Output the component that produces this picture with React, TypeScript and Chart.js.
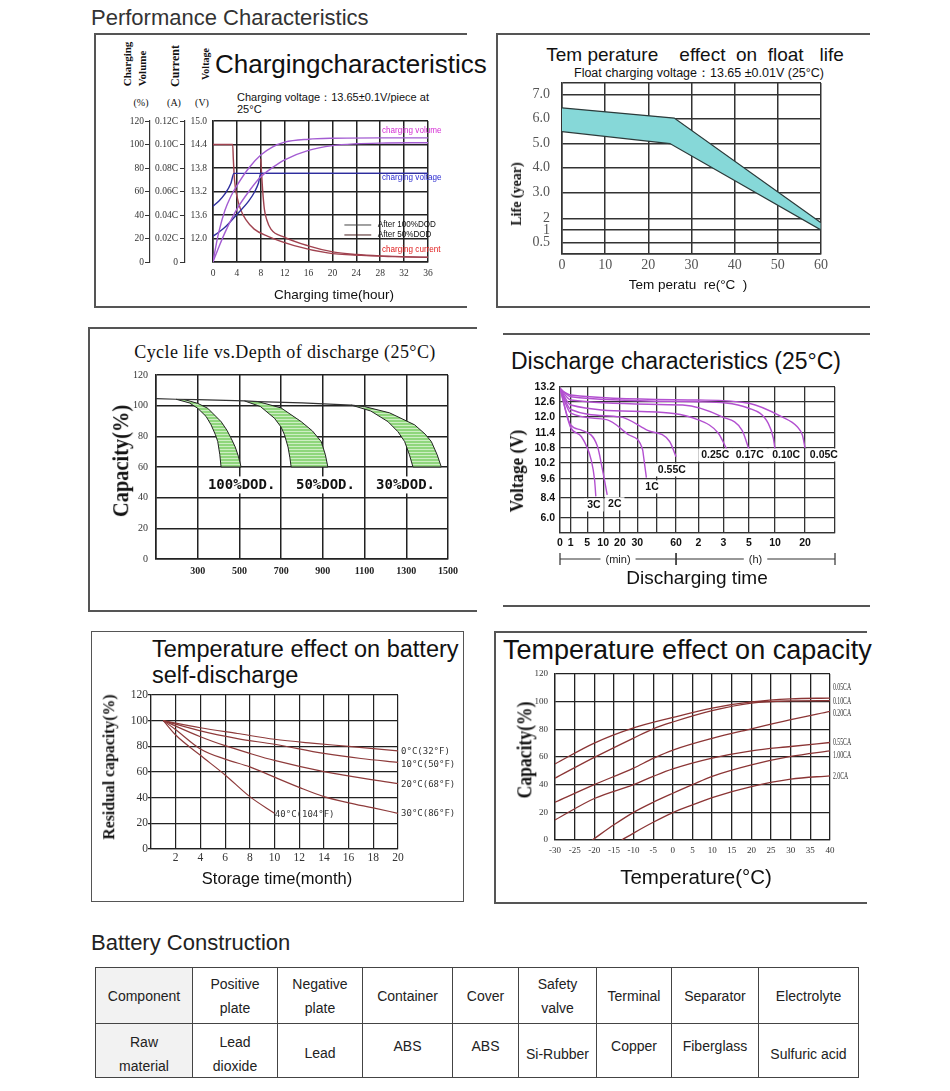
import React, { useEffect, useRef } from 'react';
import { Chart, registerables, LinearScale } from 'chart.js';

// ---------- a linear scale whose tick spacing follows the hand-drawn grid ----------
class PiecewiseScale extends LinearScale {
  static id = 'piecewise';
  static defaults = {};
  brk(): number[][] {
    return (this.options as any).breaks;
  }
  getPixelForValue(value: number) {
    const b = this.brk();
    let d = b[b.length - 1][1];
    if (value <= b[0][0]) d = b[0][1];
    else {
      for (let i = 1; i < b.length; i++) {
        if (value <= b[i][0]) {
          const t = (value - b[i - 1][0]) / (b[i][0] - b[i - 1][0]);
          d = b[i - 1][1] + t * (b[i][1] - b[i - 1][1]);
          break;
        }
      }
    }
    return this.getPixelForDecimal(d);
  }
  getValueForPixel(pixel: number) {
    const d = this.getDecimalForPixel(pixel);
    const b = this.brk();
    for (let i = 1; i < b.length; i++) {
      if (d <= b[i][1]) {
        const t = (d - b[i - 1][1]) / (b[i][1] - b[i - 1][1]);
        return b[i - 1][0] + t * (b[i][0] - b[i - 1][0]);
      }
    }
    return b[b.length - 1][0];
  }
}
Chart.register(...registerables, PiecewiseScale as any);

type P = [number, number];
type Note = { x: number; y: number; text: string; color?: string };

// ================= DATA =================
// 1. Charging characteristics (x: hours, y: charging level on the 0-120 grid)
const chgTimeTicks = [0, 4, 8, 12, 16, 20, 24, 28, 32, 36];
const chgTimeLabels = ['0', '4', '8', '12', '16', '20', '24', '28', '32', '36'];
const chgLevelTicks = [0, 20, 40, 60, 80, 100, 120];
const chgVolumeLabels = ['0', '20', '40', '60', '80', '100', '120'];
const chgCurrentLabels = ['0', '0.02C', '0.04C', '0.06C', '0.08C', '0.10C', '0.12C'];
const chgVoltageLabels = ['', '12.0', '13.6', '13.2', '13.8', '14.4', '15.0'];
const chgVolume50: P[] = [[0, 0], [0.5, 14], [1, 26], [2, 44], [3, 56], [4, 65], [6, 80], [8, 91], [10, 98], [12, 102], [16, 104.5], [20, 105.3], [28, 105.6], [36, 105.6]];
const chgVolume100: P[] = [[0, 0], [1, 13], [2, 25], [4, 45], [6, 60], [8, 72.5], [10, 80.5], [12, 87], [16, 95], [20, 99], [24, 100.6], [28, 101.2], [36, 101.5]];
const chgVoltage50: P[] = [[0, 47.5], [1, 52], [2, 58], [3, 67], [3.5, 75.4], [36, 75.4]];
const chgVoltage100: P[] = [[0, 22], [1, 25.5], [2, 29.5], [4, 40.5], [6, 52], [7, 60], [7.6, 67], [8, 75.4], [36, 75.4]];
const chgCurrent50: P[] = [[0, 100], [3.3, 100], [3.4, 88], [3.6, 70], [4, 56], [4.6, 45], [5.5, 36], [6.9, 28], [9.1, 22], [13.6, 14], [19.2, 7.8], [24.8, 5.6], [30, 4.6], [36, 3.9]];
const chgCurrent100: P[] = [[8, 88], [8.1, 78], [8.3, 62], [8.6, 45], [9, 36], [9.7, 28], [12, 21], [15.8, 14], [20.3, 8.4], [24, 6.4], [28, 5.2], [32, 4.5], [36, 4]];
const chgLegend100: P[] = [[22, 31.5], [26.5, 31.5]];
const chgLegend50: P[] = [[22, 23], [26.5, 23]];
const chgNotes: Note[] = [
  { x: 28.3, y: 111.5, text: 'charging volume', color: '#d42bd4' },
  { x: 28.3, y: 72.3, text: 'charging voltage', color: '#2b2bd0' },
  { x: 28.3, y: 11, text: 'charging current', color: '#e01b1b' },
  { x: 27.6, y: 31.5, text: 'After 100%DOD', color: '#111' },
  { x: 27.6, y: 23, text: 'After 50%DOD', color: '#111' },
];

// 2. Temperature effect on float life (x: °C, y: years)
const floatTempTicks = [0, 10, 20, 30, 40, 50, 60];
const floatTempLabels = ['0', '10', '20', '30', '40', '50', '60'];
const floatLifeTicks = [0, 0.5, 1, 2, 3, 4, 5, 6, 7, 7.5];
const floatLifeLabels = ['', '0.5', '1', '2', '3.0', '4.0', '5.0', '6.0', '7.0', ''];
const floatLifeGrid = [0, 0.066, 0.14, 0.208, 0.358, 0.504, 0.646, 0.792, 0.932, 1];
const floatUpper: P[] = [[0, 6.45], [26, 6.02], [60, 1.62]];
const floatLower: P[] = [[0, 5.48], [25, 5.0], [60, 1.0]];

// 3. Cycle life vs depth of discharge (x: cycles, y: capacity %)
const cycleTicks = [100, 300, 500, 700, 900, 1100, 1300, 1500];
const cycleLabels = ['', '300', '500', '700', '900', '1100', '1300', '1500'];
const capTicks = [0, 20, 40, 60, 80, 100, 120];
const capLabels = ['0', '20', '40', '60', '80', '100', '120'];
const cycleTopLine: P[] = [[100, 104.6], [196, 104.2], [300, 103.9], [524, 103.1], [588, 102.7], [800, 101.8], [1036, 100.4], [1100, 99.4]];
const dod100Left: P[] = [[196, 104.2], [260, 101.8], [300, 98.3], [340, 93], [364, 87.5], [385, 81], [396, 76.6], [406, 68], [412, 60]];
const dod100Right: P[] = [[236, 104], [300, 101.5], [348, 98.3], [412, 89.6], [440, 84], [460, 78.8], [480, 73], [495, 67], [508, 60]];
const dod50Left: P[] = [[524, 103.1], [600, 99.5], [668, 91.8], [700, 86], [716, 81], [733, 73], [742, 66], [748, 60]];
const dod50Right: P[] = [[588, 102.7], [700, 98.5], [796, 89.6], [850, 83.5], [892, 76.6], [912, 68], [924, 60]];
const dod30Left: P[] = [[1036, 100.4], [1130, 96.5], [1212, 89.6], [1260, 83], [1292, 76.6], [1315, 68], [1332, 60]];
const dod30Right: P[] = [[1100, 99.4], [1220, 95.3], [1340, 87.5], [1390, 81.5], [1420, 76.6], [1448, 68], [1468, 60]];
const dodNotes: Note[] = [
  { x: 349, y: 48.3, text: '100%DOD.' },
  { x: 771, y: 48.3, text: '50%DOD.' },
  { x: 1155, y: 48.3, text: '30%DOD.' },
];

// 4. Discharge characteristics (x: minutes, y: volts)
const disTimeTicks = [0, 1, 5, 10, 20, 30, 45, 60, 120, 180, 300, 600, 1200, 2400];
const disTimeLabels = ['0', '1', '5', '10', '20', '30', '', '60', '2', '3', '5', '10', '20', ''];
const disTimeGrid = [0, 0.039, 0.099, 0.157, 0.218, 0.281, 0.352, 0.422, 0.503, 0.594, 0.687, 0.782, 0.891, 1];
const disVoltTicks = [3.6, 6.0, 8.4, 9.6, 10.2, 10.8, 11.4, 12.0, 12.6, 13.2];
const disVoltLabels = ['', '6.0', '8.4', '9.6', '10.2', '10.8', '11.4', '12.0', '12.6', '13.2'];
const disVoltGrid = [0, 0.103, 0.24, 0.37, 0.479, 0.582, 0.685, 0.795, 0.897, 1];
const dis005: P[] = [[0, 13.1], [1, 12.88], [120, 12.68], [300, 12.55], [740, 12.0], [1040, 11.64], [1150, 11.3], [1200, 10.8]];
const dis010: P[] = [[0, 13.15], [1, 12.81], [120, 12.61], [300, 12.35], [522, 11.76], [580, 11.2], [600, 10.75]];
const dis017: P[] = [[0, 13.15], [1, 12.68], [78, 12.48], [176, 12.01], [268, 11.5], [300, 10.75]];
const dis025: P[] = [[0, 13.15], [1, 12.48], [38, 12.21], [120, 11.89], [168, 11.39], [196, 10.75]];
const dis055: P[] = [[0, 13.15], [1, 12.3], [20, 12.0], [38, 11.5], [55, 11.06], [60, 10.45]];
const dis1: P[] = [[0, 13.15], [1, 12.15], [12, 11.9], [25, 11.33], [34, 10.75], [35, 10.4], [37, 9.65]];
const dis2: P[] = [[0, 13.15], [1, 11.7], [3.7, 11.5], [8.2, 10.87], [9.7, 10.0], [12.4, 8.6]];
const dis3: P[] = [[0, 13.15], [1, 11.6], [3.6, 11.25], [6.3, 10.3], [7.3, 9.55], [7.7, 8.5]];
const disNotes: Note[] = [
  { x: 5, y: 7.56, text: '3C' },
  { x: 12.9, y: 7.7, text: '2C' },
  { x: 36.2, y: 9.1, text: '1C' },
  { x: 45.8, y: 9.94, text: '0.55C' },
  { x: 127, y: 10.52, text: '0.25C' },
  { x: 238, y: 10.52, text: '0.17C' },
  { x: 567, y: 10.52, text: '0.10C' },
  { x: 1394, y: 10.52, text: '0.05C' },
];
const disSpans = [
  { from: 0, to: 60, label: '(min)' },
  { from: 60, to: 2400, label: '(h)' },
];

// 5. Temperature effect on self-discharge (x: months, y: residual %)
const storeTicks = [0, 2, 4, 6, 8, 10, 12, 14, 16, 18, 20];
const storeLabels = ['', '2', '4', '6', '8', '10', '12', '14', '16', '18', '20'];
const resTicks = [0, 20, 40, 60, 80, 100, 120];
const resLabels = ['0', '20', '40', '60', '80', '100', '120'];
const sd0: P[] = [[1, 100], [4, 94.5], [7, 90], [10, 85.5], [13, 82.5], [16, 80], [20, 76.4]];
const sd10: P[] = [[1, 100], [4, 92], [7, 86], [10, 81.6], [14, 74.5], [17, 70.5], [20, 67.5]];
const sd20: P[] = [[1, 100], [4, 87.5], [6, 80.5], [8, 74.5], [10, 69], [14, 60.3], [18, 53.8], [20, 51]];
const sd30: P[] = [[1, 100], [2, 93], [4, 78], [6, 70], [8, 64], [10, 56], [12, 48], [14, 40.8], [16, 36], [18, 32], [20, 27.8]];
const sd40: P[] = [[1, 100], [2, 88.8], [4, 73], [6, 57.7], [8, 40.8], [10, 27.8]];
const sdNotes: Note[] = [
  { x: 20.25, y: 75.6, text: '0°C(32°F)' },
  { x: 20.25, y: 65.5, text: '10°C(50°F)' },
  { x: 20.25, y: 49.9, text: '20°C(68°F)' },
  { x: 20.25, y: 27.3, text: '30°C(86°F)' },
  { x: 10.03, y: 26.5, text: '40°C(104°F)' },
];

// 6. Temperature effect on capacity (x: °C, y: capacity %)
const tempTicks = [-30, -25, -20, -15, -10, -5, 0, 5, 10, 15, 20, 25, 30, 35, 40];
const tempLabels = ['-30', '-25', '-20', '-15', '-10', '-5', '0', '5', '10', '15', '20', '25', '30', '35', '40'];
const tc005: P[] = [[-30, 55], [-20, 70], [-10, 81], [0, 88.6], [10, 95.4], [20, 99.8], [30, 102], [40, 102.6]];
const tc010: P[] = [[-30, 44.7], [-20, 59.7], [-10, 73.7], [-5, 80.4], [0, 85.3], [10, 93.5], [20, 99], [30, 100.5], [40, 100.7]];
const tc020: P[] = [[-30, 27.3], [-20, 40], [-10, 52], [-5, 59], [0, 65], [10, 73.5], [20, 80.4], [30, 87], [40, 93]];
const tc055: P[] = [[-30, 14.5], [-20, 30], [-10, 40], [-5, 46], [0, 51.4], [10, 59.2], [20, 64.5], [30, 67.6], [40, 70.5]];
const tc100: P[] = [[-20.5, 0], [-15, 11], [-10, 20], [-5, 27.3], [0, 33.8], [5, 40], [10, 46], [20, 54.3], [30, 60.4], [40, 64.5]];
const tc200: P[] = [[-13, 0], [-10, 5], [-5, 12.8], [0, 19.8], [5, 25.4], [10, 30.7], [20, 38.6], [30, 44], [40, 46.4]];
const tcNotes: Note[] = [
  { x: 40.75, y: 110.2, text: '0.05CA' },
  { x: 40.75, y: 100.1, text: '0.10CA' },
  { x: 40.75, y: 91.4, text: '0.20CA' },
  { x: 40.75, y: 70.3, text: '0.55CA' },
  { x: 40.75, y: 60.9, text: '1.00CA' },
  { x: 40.75, y: 45.7, text: '2.0CA' },
];

// 7. Battery construction table
const tableComponents = ['Component', 'Positive\nplate', 'Negative\nplate', 'Container', 'Cover', 'Safety\nvalve', 'Terminal', 'Separator', 'Electrolyte'];
const tableMaterials = ['Raw\nmaterial', 'Lead\ndioxide', 'Lead', 'ABS', 'ABS', 'Si-Rubber', 'Copper', 'Fiberglass', 'Sulfuric acid'];

// ================= STYLE / HELPERS =================
const SANS = '"Liberation Sans", Arial, sans-serif';
const SERIF = '"Liberation Serif", "Times New Roman", serif';
const MONO = '"DejaVu Sans Mono", monospace';
const tableColWidths = [97, 85, 85, 90, 66, 78, 75, 87, 100];
const tableShift = [3, 3, 2, -5, -5, 3, -5, -5, 3];

const pts = (a: P[]) => a.map(([x, y]) => ({ x, y }));
const breaksOf = (vals: number[], pos: number[]) => vals.map((v, i) => [v, pos[i]]);
const fitW = (w: number) => (s: any) => { s.width = w; s.paddingTop = 0; s.paddingBottom = 0; };
const fitH = (h: number) => (s: any) => { s.height = h; s.paddingLeft = 0; s.paddingRight = 0; };
const tickAt = (vals: number[]) => (s: any) => { s.ticks = vals.map((value) => ({ value })); };

function axis(s: any) {
  const horiz = s.pos === 'bottom';
  return {
    type: s.type || 'linear',
    position: s.pos,
    weight: s.weight || 0,
    min: s.ticks[0],
    max: s.ticks[s.ticks.length - 1],
    breaks: s.breaks,
    afterBuildTicks: tickAt(s.ticks),
    afterFit: horiz ? fitH(s.size) : fitW(s.size),
    ticks: {
      autoSkip: false, maxRotation: 0, minRotation: 0, padding: s.pad,
      font: s.font, color: s.color,
      callback: (_v: any, i: number) => s.labels[i],
    },
    grid: s.grid,
    border: s.border,
  };
}

const base = (padding: any) => ({
  responsive: false,
  animation: false,
  events: [],
  layout: { padding },
  plugins: { legend: { display: false }, tooltip: { enabled: false } },
});

const line = (d: P[], color: string, width: number, mono = true) => ({
  data: pts(d), borderColor: color, borderWidth: width, pointRadius: 0, fill: false,
  cubicInterpolationMode: mono ? 'monotone' : 'default', tension: 0,
});

const shape = (d: P[], fillColor: any, stroke: string, width: number) => ({
  data: pts(d), fill: 'shape', backgroundColor: fillColor, borderColor: stroke,
  borderWidth: width, pointRadius: 0, tension: 0,
});

function notesPlugin(notes: Note[], font: string, opts: any = {}) {
  return {
    id: 'notes',
    afterDatasetsDraw(chart: any) {
      const ctx: CanvasRenderingContext2D = chart.ctx;
      const xs = chart.scales.x;
      const ys = chart.scales[opts.yId || 'y'];
      const sx = opts.sx || 1;
      ctx.save();
      ctx.font = font;
      ctx.textBaseline = 'middle';
      ctx.textAlign = 'left';
      for (const n of notes) {
        const px = xs.getPixelForValue(n.x);
        const py = ys.getPixelForValue(n.y);
        const w = ctx.measureText(n.text).width * sx;
        if (opts.bg) {
          const h = opts.bgH || 14;
          ctx.fillStyle = '#fff';
          ctx.fillRect(px - 3, py - h / 2, w + 6, h);
        }
        ctx.fillStyle = n.color || opts.color || '#222';
        ctx.save();
        ctx.translate(px, py);
        ctx.scale(sx, 1);
        ctx.fillText(n.text, 0, 0);
        ctx.restore();
      }
      ctx.restore();
    },
  };
}

const bracketPlugin = {
  id: 'bracket',
  afterDraw(chart: any) {
    const ctx: CanvasRenderingContext2D = chart.ctx;
    const xs = chart.scales.x;
    const y = chart.chartArea.bottom + 26;
    ctx.save();
    ctx.strokeStyle = '#333';
    ctx.lineWidth = 1.2;
    ctx.fillStyle = '#222';
    ctx.font = `11px ${SANS}`;
    ctx.textAlign = 'center';
    ctx.textBaseline = 'middle';
    for (const sp of disSpans) {
      const x0 = xs.getPixelForValue(sp.from);
      const x1 = xs.getPixelForValue(sp.to);
      const mid = (x0 + x1) / 2;
      const hw = ctx.measureText(sp.label).width / 2 + 5;
      ctx.beginPath();
      ctx.moveTo(x0, y); ctx.lineTo(mid - hw, y);
      ctx.moveTo(mid + hw, y); ctx.lineTo(x1, y);
      ctx.moveTo(x0, y - 6); ctx.lineTo(x0, y + 6);
      ctx.moveTo(x1, y - 6); ctx.lineTo(x1, y + 6);
      ctx.stroke();
      ctx.fillText(sp.label, mid, y + 1);
    }
    ctx.restore();
  },
};

// ================= CHART CONFIGS =================
function buildCharging() {
  const PURPLE = '#a35cd2';
  const BLUE = '#2e2e9e';
  const RED = '#a0424f';
  const gridMain = { color: '#222', lineWidth: 1.5, drawTicks: false };
  const border = { color: '#222', width: 1.5 };
  const side = { drawOnChartArea: false, drawTicks: true, tickLength: 5, color: '#333', lineWidth: 1 };
  const f = { family: SERIF, size: 9.5 };
  return {
    type: 'line',
    data: {
      datasets: [
        line(chgVolume50, PURPLE, 1.4), line(chgVolume100, PURPLE, 1.4),
        line(chgVoltage50, BLUE, 1.4), line(chgVoltage100, BLUE, 1.4),
        line(chgCurrent50, RED, 1.4), line(chgCurrent100, RED, 1.4),
        line(chgLegend100, '#444', 1, false), line(chgLegend50, '#4a2020', 1, false),
      ],
    },
    options: {
      ...base({ left: 25, top: 11, right: 32, bottom: 13 }),
      scales: {
        x: axis({ pos: 'bottom', ticks: chgTimeTicks, labels: chgTimeLabels, size: 20, font: f, color: '#333', pad: 6, grid: gridMain, border }),
        y: axis({ pos: 'left', weight: 0, ticks: chgLevelTicks, labels: chgVoltageLabels, size: 28, font: f, color: '#333', pad: 6, grid: gridMain, border }),
        yCur: axis({ pos: 'left', weight: 1, ticks: chgLevelTicks, labels: chgCurrentLabels, size: 35, font: f, color: '#333', pad: 2, grid: side, border: { color: '#333', width: 1.2 } }),
        yVol: axis({ pos: 'left', weight: 2, ticks: chgLevelTicks, labels: chgVolumeLabels, size: 25, font: f, color: '#333', pad: 1, grid: side, border: { color: '#333', width: 1.2 } }),
      },
    },
    plugins: [notesPlugin(chgNotes, `9px ${SANS}`, { sx: 0.9 })],
  };
}

function buildFloat() {
  const g = { color: '#333', lineWidth: 1.5, drawTicks: false };
  const b = { color: '#333', width: 1.5 };
  const f = { family: SERIF, size: 14 };
  return {
    type: 'line',
    data: { datasets: [shape([...floatUpper, ...floatLower.slice().reverse()], '#86d8d8', '#2c3a3a', 1.2)] },
    options: {
      ...base({ left: 25, top: 5, right: 34, bottom: 2 }),
      scales: {
        x: axis({ pos: 'bottom', ticks: floatTempTicks, labels: floatTempLabels, size: 22, font: f, color: '#555', pad: 3, grid: g, border: b }),
        y: axis({ type: 'piecewise', pos: 'left', ticks: floatLifeTicks, labels: floatLifeLabels, breaks: breaksOf(floatLifeTicks, floatLifeGrid), size: 32, font: f, color: '#555', pad: 12, grid: g, border: b }),
      },
    },
  };
}

function stripes(): any {
  const c = document.createElement('canvas');
  c.width = 4; c.height = 3;
  const g = c.getContext('2d');
  if (!g) return '#9bdc8c';
  g.fillStyle = '#8fd67c';
  g.fillRect(0, 0, 4, 3);
  g.fillStyle = '#cdeec3';
  g.fillRect(0, 0, 4, 1);
  return g.createPattern(c, 'repeat') || '#9bdc8c';
}

function buildCycle() {
  const g = { color: '#222', lineWidth: 1.5, drawTicks: false };
  const b = { color: '#222', width: 1.5 };
  const pat = stripes();
  const band = (l: P[], r: P[]) => shape([...l, ...r.slice().reverse()], pat, '#222', 1);
  return {
    type: 'line',
    data: {
      datasets: [
        line(cycleTopLine, '#333', 1.2, false),
        band(dod100Left, dod100Right), band(dod50Left, dod50Right), band(dod30Left, dod30Right),
      ],
    },
    options: {
      ...base({ left: 5, top: 7, right: 22, bottom: 6 }),
      scales: {
        x: axis({ pos: 'bottom', ticks: cycleTicks, labels: cycleLabels, size: 18, font: { family: SERIF, size: 10, weight: 'bold' }, color: '#222', pad: 6, grid: g, border: b }),
        y: axis({ pos: 'left', ticks: capTicks, labels: capLabels, size: 26, font: { family: SERIF, size: 10 }, color: '#333', pad: 8, grid: g, border: b }),
      },
    },
    plugins: [notesPlugin(dodNotes, `bold 14px ${MONO}`, { bg: true, bgH: 17, color: '#111' })],
  };
}

function buildDischarge() {
  const g = { color: '#333', lineWidth: 1.3, drawTicks: false };
  const b = { color: '#333', width: 1.3 };
  const f = { family: SANS, size: 10.5, weight: 'bold' };
  const C = '#b350d0';
  return {
    type: 'line',
    data: {
      datasets: [dis005, dis010, dis017, dis025, dis055, dis1, dis2, dis3].map((d) => line(d, C, 1.4)),
    },
    options: {
      ...base({ left: 0, top: 7, right: 20, bottom: 17 }),
      scales: {
        x: axis({ type: 'piecewise', pos: 'bottom', ticks: disTimeTicks, labels: disTimeLabels, breaks: breaksOf(disTimeTicks, disTimeGrid), size: 20, font: f, color: '#111', pad: 4, grid: g, border: b }),
        y: axis({ type: 'piecewise', pos: 'left', ticks: disVoltTicks, labels: disVoltLabels, breaks: breaksOf(disVoltTicks, disVoltGrid), size: 40, font: f, color: '#111', pad: 5, grid: g, border: b }),
      },
    },
    plugins: [notesPlugin(disNotes, `bold 10.5px ${SANS}`, { bg: true, bgH: 13, color: '#111' }), bracketPlugin],
  };
}

function buildSelfDischarge() {
  const g = { color: '#222', lineWidth: 1.2, drawTicks: false };
  const gy = { color: '#222', lineWidth: 1.2, drawTicks: true, tickLength: 3 };
  const b = { color: '#222', width: 1.2 };
  const f = { family: SERIF, size: 11.5 };
  const C = '#8e3b3b';
  return {
    type: 'line',
    data: { datasets: [sd0, sd10, sd20, sd30, sd40].map((d) => line(d, C, 1.2)) },
    options: {
      ...base({ left: 4, top: 7, right: 67, bottom: 6 }),
      scales: {
        x: axis({ pos: 'bottom', ticks: storeTicks, labels: storeLabels, size: 18, font: f, color: '#333', pad: 2, grid: g, border: b }),
        y: axis({ pos: 'left', ticks: resTicks, labels: resLabels, size: 32, font: f, color: '#333', pad: 0, grid: gy, border: b }),
      },
    },
    plugins: [notesPlugin(sdNotes, `9px ${MONO}`, { color: '#333' })],
  };
}

function buildTempCapacity() {
  const g = { color: '#222', lineWidth: 1.3, drawTicks: false };
  const b = { color: '#222', width: 1.3 };
  const f = { family: SERIF, size: 9 };
  const C = '#8b3535';
  return {
    type: 'line',
    data: { datasets: [tc005, tc010, tc020, tc055, tc100, tc200].map((d) => line(d, C, 1.3)) },
    options: {
      ...base({ left: 5, top: 6, right: 40, bottom: 7 }),
      scales: {
        x: axis({ pos: 'bottom', ticks: tempTicks, labels: tempLabels, size: 16, font: f, color: '#333', pad: 5, grid: g, border: b }),
        y: axis({ pos: 'left', ticks: capTicks, labels: capLabels, size: 30, font: f, color: '#333', pad: 7, grid: g, border: b }),
      },
    },
    plugins: [notesPlugin(tcNotes, `10px ${SERIF}`, { color: '#333', sx: 0.58 })],
  };
}

// ================= COMPONENTS =================
function ChartBox({ left, top, width, height, build }: { left: number; top: number; width: number; height: number; build: () => any }) {
  const ref = useRef<HTMLCanvasElement>(null);
  useEffect(() => {
    if (!ref.current) return;
    const chart = new Chart(ref.current, build());
    return () => chart.destroy();
  }, []);
  return <canvas ref={ref} width={width} height={height} style={{ position: 'absolute', left, top, width, height }} />;
}

function Txt({ x, y, size, font = SANS, weight = 400, color = '#111', anchor = 'left', rotate = false, sx = 1, lh = 1.15, ls = 0, children }: any) {
  const transform = rotate
    ? `translate(-50%,-50%) rotate(-90deg) scaleX(${sx})`
    : anchor === 'center' ? 'translate(-50%,-50%)' : 'translateY(-50%)';
  return (
    <div style={{ position: 'absolute', left: x, top: y, fontSize: size, fontFamily: font, fontWeight: weight, color, transform, whiteSpace: 'pre', lineHeight: lh, letterSpacing: ls }}>
      {children}
    </div>
  );
}

const LC = '#555';
const H = ({ x, y, w }: any) => <div style={{ position: 'absolute', left: x, top: y, width: w, height: 1.5, background: LC }} />;
const V = ({ x, y, h }: any) => <div style={{ position: 'absolute', left: x, top: y, width: 1.5, height: h, background: LC }} />;

export default function App() {
  const cell = (i: number): React.CSSProperties => ({
    border: '1px solid #444', textAlign: 'center', verticalAlign: 'middle', padding: 0,
    lineHeight: '24px', whiteSpace: 'pre-line', background: i === 0 ? '#f2f2f2' : '#fff',
  });
  return (
    <div style={{ position: 'absolute', left: 0, top: 0, width: 950, height: 1091, background: '#fff', overflow: 'hidden' }}>
      <Txt x={91} y={18} size={22} color="#333">Performance Characteristics</Txt>

      {/* panel 1 */}
      <H x={94} y={33} w={373} /><V x={94} y={33} h={274} /><H x={94} y={306} w={373} />
      <Txt x={135} y={64} size={11} font={SERIF} weight={700} rotate lh={1.4}>{'Charging\nVolume'}</Txt>
      <Txt x={176} y={66} size={12} font={SERIF} weight={700} rotate>Current</Txt>
      <Txt x={206} y={64} size={10} font={SERIF} weight={700} rotate>Voltage</Txt>
      <Txt x={141} y={103} size={10} font={SERIF} anchor="center">(%)</Txt>
      <Txt x={174} y={103} size={10} font={SERIF} anchor="center">(A)</Txt>
      <Txt x={202} y={103} size={10} font={SERIF} anchor="center">(V)</Txt>
      <Txt x={215} y={65} size={26}>Chargingcharacteristics</Txt>
      <Txt x={237} y={97} size={11}>Charging voltage：13.65±0.1V/piece at</Txt>
      <Txt x={237} y={109} size={11}>25°C</Txt>
      <ChartBox left={100} top={110} width={360} height={185} build={buildCharging} />
      <Txt x={334} y={295} size={13.5} anchor="center">Charging time(hour)</Txt>

      {/* panel 2 */}
      <H x={496} y={33} w={374} /><V x={496} y={33} h={274} /><H x={496} y={306} w={374} />
      <Txt x={695} y={55} size={19} anchor="center">{'Tem perature    effect  on  float   life'}</Txt>
      <Txt x={699} y={73} size={12.5} anchor="center">Float charging voltage：13.65 ±0.01V (25°C)</Txt>
      <ChartBox left={505} top={78} width={350} height={200} build={buildFloat} />
      <Txt x={517} y={194} size={14} font={SERIF} weight={700} rotate>Life (year)</Txt>
      <Txt x={688} y={285} size={13.5} anchor="center">{'Tem peratu  re(°C  )'}</Txt>

      {/* panel 3 */}
      <H x={88} y={327} w={389} /><V x={88} y={327} h={284} /><H x={88} y={610} w={389} />
      <Txt x={285} y={352} size={18} font={SERIF} anchor="center" ls={0.4}>Cycle life vs.Depth of discharge (25°C)</Txt>
      <ChartBox left={125} top={368} width={345} height={215} build={buildCycle} />
      <Txt x={121} y={461} size={24} font={SERIF} weight={700} rotate sx={0.85}>Capacity(%)</Txt>

      {/* panel 4 */}
      <H x={503} y={333} w={367} /><H x={503} y={605} w={367} />
      <Txt x={676} y={361} size={23} anchor="center">Discharge characteristics (25°C)</Txt>
      <ChartBox left={520} top={380} width={335} height={190} build={buildDischarge} />
      <Txt x={517} y={471} size={19} font={SERIF} weight={700} rotate sx={0.9}>Voltage (V)</Txt>
      <Txt x={697} y={578} size={19} anchor="center">Discharging time</Txt>

      {/* panel 5 */}
      <div style={{ position: 'absolute', left: 91, top: 631, width: 373, height: 271, border: `1.5px solid ${LC}`, boxSizing: 'border-box' }} />
      <Txt x={152} y={650} size={23.5}>Temperature effect on battery</Txt>
      <Txt x={152} y={676} size={23.5}>self-discharge</Txt>
      <ChartBox left={115} top={688} width={350} height={185} build={buildSelfDischarge} />
      <Txt x={109} y={767} size={17} font={SERIF} weight={700} rotate sx={0.93}>Residual capacity(%)</Txt>
      <Txt x={277} y={878} size={16.5} anchor="center">Storage time(month)</Txt>

      {/* panel 6 */}
      <H x={494} y={631} w={373} /><V x={494} y={631} h={272} /><H x={494} y={902} w={373} />
      <Txt x={503} y={651} size={27}>Temperature effect on capacity</Txt>
      <ChartBox left={520} top={668} width={350} height={195} build={buildTempCapacity} />
      <Txt x={524} y={750} size={22} font={SERIF} weight={700} rotate sx={0.8}>Capacity(%)</Txt>
      <Txt x={696} y={877} size={20.5} anchor="center">Temperature(°C)</Txt>

      {/* battery construction */}
      <Txt x={91} y={943} size={22} color="#222">Battery Construction</Txt>
      <table style={{ position: 'absolute', left: 95, top: 967, width: 763, borderCollapse: 'collapse', tableLayout: 'fixed', fontFamily: SANS, fontSize: 14, color: '#222' }}>
        <colgroup>{tableColWidths.map((w, i) => <col key={i} style={{ width: w }} />)}</colgroup>
        <tbody>
          <tr style={{ height: 56 }}>
            {tableComponents.map((t, i) => <td key={i} style={cell(i)}>{t}</td>)}
          </tr>
          <tr style={{ height: 54 }}>
            {tableMaterials.map((t, i) => (
              <td key={i} style={cell(i)}>
                <span style={{ position: 'relative', top: tableShift[i], display: 'inline-block' }}>{t}</span>
              </td>
            ))}
          </tr>
        </tbody>
      </table>
    </div>
  );
}
